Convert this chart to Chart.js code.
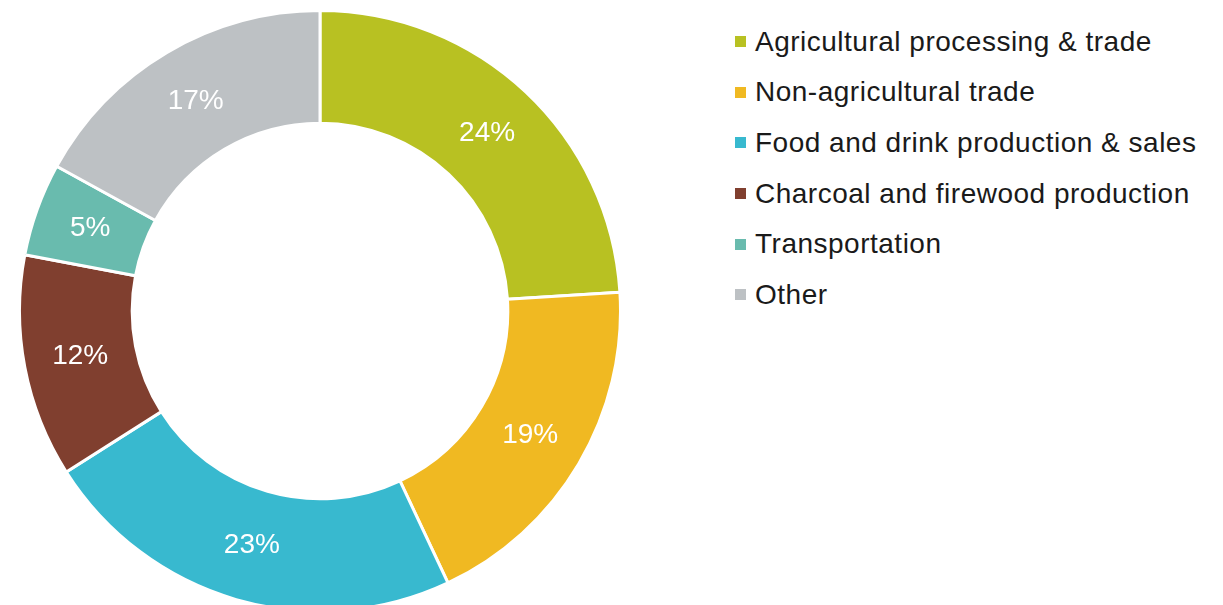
<!DOCTYPE html>
<html>
<head>
<meta charset="utf-8">
<script src="https://cdn.jsdelivr.net/npm/chart.js@4.4.0/dist/chart.umd.min.js"></script>
<style>
    body {
        margin: 0;
        width: 1223px;
        height: 605px;
        overflow: hidden;
        background: #fff;
        font-family: "Liberation Sans", Arial, sans-serif;
    }
    .chart-box {
        position: absolute;
        left: 18px;
        top: 9px;
        width: 604px;
        height: 604px;
    }
    .legend {
        position: absolute;
        left: 735px;
        top: 16.5px;
        margin: 0;
        padding: 0;
        list-style: none;
    }
    .legend li {
        display: flex;
        align-items: center;
        height: 50.6px;
        font-size: 28px;
        letter-spacing: 0.5px;
        color: #1a1a1a;
        white-space: nowrap;
    }
    .legend span {
        display: inline-block;
        width: 11px;
        height: 11px;
        margin-right: 9px;
    }
</style>
</head>
<body>
<div class="chart-box"><canvas id="myChart"></canvas></div>
<ul class="legend" id="legend"></ul>

<script>
const categories = ['Agricultural processing & trade', 'Non-agricultural trade', 'Food and drink production & sales', 'Charcoal and firewood production', 'Transportation', 'Other'];
const shares = [24, 19, 23, 12, 5, 17];
const colors = ['#b8c122', '#f0b922', '#38b9cf', '#803f2f', '#69bbae', '#bdc1c4'];

// legend
const legend = document.getElementById('legend');
categories.forEach((name, i) => {
    const li = document.createElement('li');
    li.innerHTML = '<span style="background:' + colors[i] + '"></span>' + name;
    legend.appendChild(li);
});

// percentage labels inside the ring
const sliceLabels = {
    id: 'sliceLabels',
    afterDatasetsDraw(chart) {
        const ctx = chart.ctx;
        const meta = chart.getDatasetMeta(0);
        ctx.save();
        ctx.fillStyle = '#ffffff';
        ctx.font = '28px "Liberation Sans", Arial, sans-serif';
        ctx.textAlign = 'center';
        ctx.textBaseline = 'middle';
        meta.data.forEach((arc, i) => {
            const pos = arc.tooltipPosition();
            ctx.fillText(shares[i] + '%', pos.x, pos.y);
        });
        ctx.restore();
    }
};

const ctx = document.getElementById('myChart');

new Chart(ctx, {
    type: 'doughnut',
    data: {
        labels: categories,
        datasets: [{
            data: shares,
            backgroundColor: colors,
            borderColor: '#ffffff',
            borderWidth: 3,
        }],
    },
    options: {
        responsive: true,
        maintainAspectRatio: false,
        animation: false,
        cutout: '62.5%',
        plugins: {
            legend: { display: false },
            tooltip: { enabled: false }
        }
    },
    plugins: [sliceLabels]
});
</script>
</body>
</html>
